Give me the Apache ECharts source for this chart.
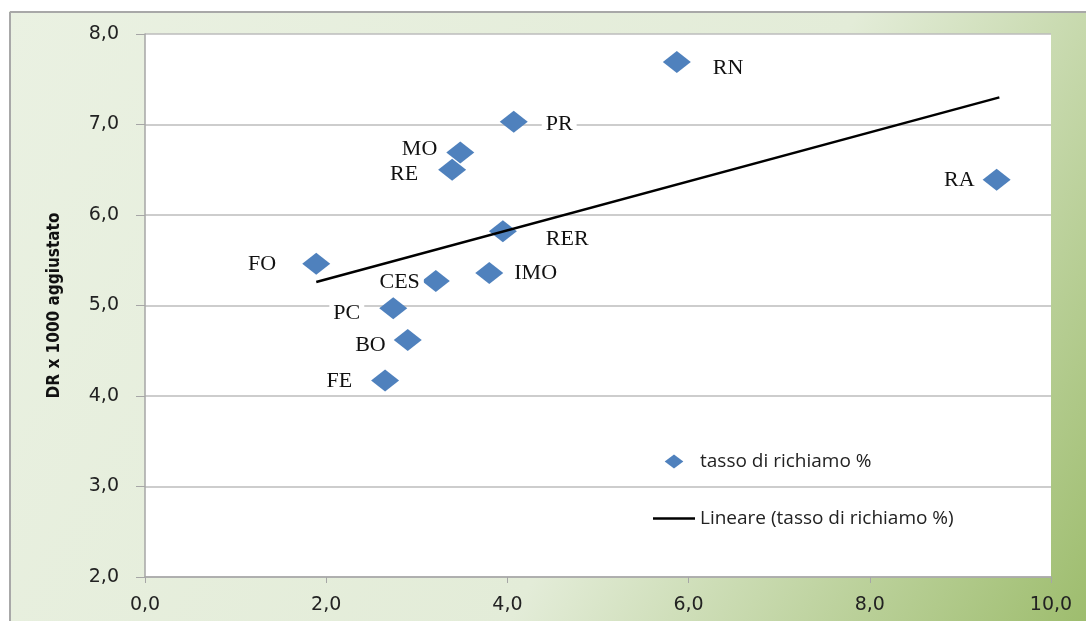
<!DOCTYPE html>
<html>
<head>
<meta charset="utf-8">
<script src="https://cdn.jsdelivr.net/npm/echarts@6/dist/echarts.min.js"></script>
<style>
  html, body { margin: 0; padding: 0; background: #fff; }
  #chart { width: 1086px; height: 621px; }
</style>
</head>
<body>
<div id="chart"></div>
<script>
// province codes and their values (tasso di richiamo %, DR x 1000 aggiustato)
const names = ['RN', 'PR', 'MO', 'RE', 'RER', 'FO', 'IMO', 'CES', 'PC', 'BO', 'FE', 'RA'];
const tassoRichiamo = [5.87, 4.07, 3.48, 3.39, 3.95, 1.89, 3.80, 3.21, 2.74, 2.90, 2.65, 9.40];
const drAggiustato = [7.69, 7.03, 6.69, 6.50, 5.82, 5.46, 5.36, 5.27, 4.97, 4.62, 4.17, 6.39];

// linear trend line ends as drawn
const trendX = [1.89, 9.43];
const trendY = [5.26, 7.30];

const xTicks = [0, 2, 4, 6, 8, 10];
const yTicks = [2, 3, 4, 5, 6, 7, 8];

// where each label sits around its diamond
const labelPlace = {
  RN: ['right', 13, 6],
  PR: ['right', 9, 2],
  MO: ['left', 0, -3],
  RE: ['left', -11, 4],
  RER: ['right', 20, 8],
  FO: ['left', -17, 0],
  IMO: ['right', 2, 0],
  CES: ['left', 7, 1],
  PC: ['left', -10, 5],
  BO: ['left', 1, 5],
  FE: ['left', -10, 1],
  RA: ['left', 1, 1]
};

const fmt = v => v.toFixed(1).replace('.', ',');

const scatterData = names.map((n, i) => {
  const p = labelPlace[n];
  return {
    name: n,
    value: [tassoRichiamo[i], drAggiustato[i]],
    label: { position: p[0], offset: [p[1], p[2]] }
  };
});

const chart = echarts.init(document.getElementById('chart'));
chart.setOption({
  animation: false,
  backgroundColor: {
    type: 'linear', x: 0, y: 0, x2: 1, y2: 1,
    colorStops: [
      { offset: 0, color: '#eaf1e2' },
      { offset: 0.6, color: '#e3ecd8' },
      { offset: 1, color: '#9ebd6e' }
    ]
  },
  graphic: [
    { type: 'rect', shape: { x: 0, y: 0, width: 1086, height: 11 }, style: { fill: '#fff' }, z: -1 },
    { type: 'rect', shape: { x: 0, y: 0, width: 9, height: 621 }, style: { fill: '#fff' }, z: -1 },
    { type: 'line', shape: { x1: 10, y1: 12, x2: 1086, y2: 12 }, style: { stroke: '#a8a8a8', lineWidth: 2 } },
    { type: 'line', shape: { x1: 10, y1: 12, x2: 10, y2: 621 }, style: { stroke: '#a8a8a8', lineWidth: 2 } }
  ],
  grid: {
    left: 145, top: 34, right: 35, bottom: 44,
    show: true, backgroundColor: '#fff', borderWidth: 0
  },
  legend: {
    orient: 'vertical',
    left: 648, top: 447,
    itemWidth: 42, itemHeight: 14, itemGap: 38,
    symbolKeepAspect: true,
    textStyle: { fontFamily: 'Open Sans', fontSize: 19, color: '#222' },
    data: [
      { name: 'tasso di richiamo %', icon: 'path://M8,0 L16,6 L8,12 L0,6 Z', itemStyle: { color: '#4f81bd' } },
      { name: 'Lineare (tasso di richiamo %)', icon: 'path://M0,0 L42,0 L42,2.5 L0,2.5 Z', itemStyle: { color: '#000' } }
    ]
  },
  xAxis: {
    type: 'value',
    min: xTicks[0], max: xTicks[xTicks.length - 1], interval: 2,
    axisLine: { show: true, lineStyle: { color: '#a6a6a6', width: 1.5 } },
    axisTick: { show: true, length: 6, lineStyle: { color: '#a6a6a6' } },
    splitLine: { show: false },
    axisLabel: {
      margin: 19, formatter: fmt,
      fontFamily: 'DejaVu Sans', fontSize: 19, color: '#222'
    }
  },
  yAxis: {
    type: 'value',
    min: yTicks[0], max: yTicks[yTicks.length - 1], interval: 1,
    name: 'DR x 1000 aggiustato',
    nameLocation: 'middle',
    nameGap: 82,
    nameTextStyle: {
      fontFamily: 'Liberation Sans Narrow, DejaVu Sans Condensed, Arial Narrow',
      fontWeight: 'bold', fontSize: 17, color: '#111'
    },
    axisLine: { show: true, lineStyle: { color: '#a6a6a6', width: 1.5 } },
    axisTick: { show: true, inside: false, length: 9, lineStyle: { color: '#a6a6a6' } },
    splitLine: { show: true, lineStyle: { color: '#bdbdbd', width: 1.5 } },
    axisLabel: {
      margin: 26, formatter: fmt,
      fontFamily: 'DejaVu Sans', fontSize: 19, color: '#222'
    }
  },
  series: [
    {
      name: 'tasso di richiamo %',
      type: 'scatter',
      symbol: 'diamond',
      symbolSize: [28, 22],
      itemStyle: { color: '#4f81bd', opacity: 1 },
      label: {
        show: true,
        formatter: '{b}',
        fontFamily: 'Liberation Serif',
        fontSize: 22,
        color: '#111',
        backgroundColor: '#fff',
        padding: [1, 4]
      },
      data: scatterData,
      z: 2
    },
    {
      name: 'Lineare (tasso di richiamo %)',
      type: 'line',
      symbol: 'none',
      lineStyle: { color: '#000', width: 2.5 },
      itemStyle: { color: '#000' },
      data: trendX.map((x, i) => [x, trendY[i]]),
      z: 3
    }
  ]
});
</script>
</body>
</html>
